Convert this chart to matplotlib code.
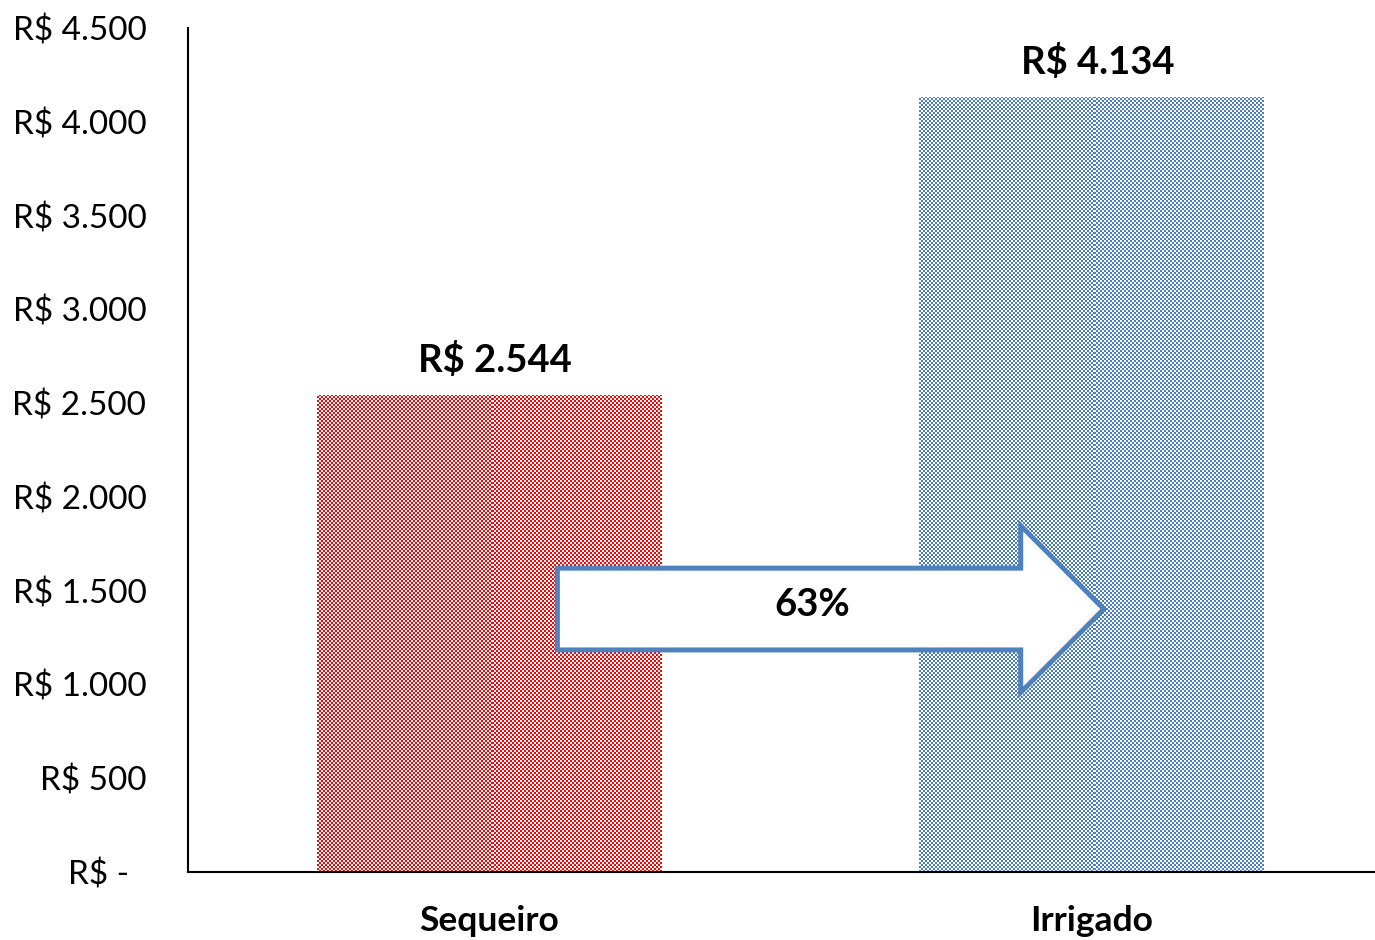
import numpy as np
import matplotlib
matplotlib.use("Agg")
import matplotlib.pyplot as plt
from matplotlib.patches import Polygon

categories = ["Sequeiro", "Irrigado"]
values = [2544, 4134]
value_labels = ["R$ 2.544", "R$ 4.134"]
yticks = [0, 500, 1000, 1500, 2000, 2500, 3000, 3500, 4000, 4500]
ytick_labels = ["R$ -  ", "R$ 500", "R$ 1.000", "R$ 1.500", "R$ 2.000", "R$ 2.500",
                "R$ 3.000", "R$ 3.500", "R$ 4.000", "R$ 4.500"]
growth_label = "63%"
bar_colors = ["#FF0000", "#4A7EC8"]

plt.rcParams['font.family'] = ['Lato', 'DejaVu Sans']

W, H = 1375, 940
fig = plt.figure(figsize=(W/100, H/100), dpi=100)
ax = fig.add_axes([188/W, 1 - 872/H, (W - 188)/W, (872 - 28)/H])
ax.set_xlim(-0.5, 1.47)
ax.set_ylim(0, 4500)

x = np.arange(len(categories))
bars = ax.bar(x, values, width=0.572, color='none', edgecolor='none', zorder=2)

# checkerboard fill
fig.canvas.draw()
for b, col in zip(bars, bar_colors):
    x0, y0 = b.get_x(), b.get_y()
    x1, y1 = x0 + b.get_width(), y0 + b.get_height()
    p0 = ax.transData.transform((x0, y0))
    p1 = ax.transData.transform((x1, y1))
    nx = max(1, int(round(abs(p1[0] - p0[0]) / 2)))
    ny = max(1, int(round(abs(p1[1] - p0[1]) / 2)))
    ii, jj = np.indices((ny, nx))
    mask = (ii + jj) % 2
    rgb = np.array(matplotlib.colors.to_rgb(col))
    img = np.where(mask[..., None] == 1, rgb, np.array([1.0, 1.0, 1.0]))
    im = ax.imshow(img, extent=(x0, x1, y0, y1), interpolation='nearest',
                   aspect='auto', zorder=1)
    im.set_clip_path(b)

ax.set_xlim(-0.5, 1.47)
ax.set_ylim(0, 4500)

for xi, v, lab in zip(x, values, value_labels):
    ax.annotate(lab, (xi, v), xytext=(4, 12), textcoords='offset points',
                ha='center', va='bottom', fontsize=27.5, fontweight='bold')

# arrow
arrow_y = 1402
body_half = 218
head_half = 445
xs, xb, xt = 0.113, 0.882, 1.020
pts = [(xs, arrow_y + body_half), (xb, arrow_y + body_half), (xb, arrow_y + head_half),
       (xt, arrow_y), (xb, arrow_y - head_half), (xb, arrow_y - body_half),
       (xs, arrow_y - body_half)]
ax.add_patch(Polygon(pts, closed=True, facecolor='white', edgecolor='#4F81BD',
                     linewidth=3.6, zorder=3, joinstyle='miter'))
ax.text(0.536, arrow_y + 20, growth_label, ha='center', va='center', fontsize=27.5,
        fontweight='bold', zorder=4)

ax.set_yticks(yticks)
ax.set_yticklabels(ytick_labels, fontsize=24)
ax.set_xticks(x)
ax.set_xticklabels(categories, fontsize=25.5, fontweight='bold')
ax.tick_params(axis='y', length=0, pad=30)
ax.tick_params(axis='x', length=0, pad=24)
for s in ['top', 'right']:
    ax.spines[s].set_visible(False)
ax.spines['left'].set_linewidth(1.5)
ax.spines['bottom'].set_linewidth(1.5)

fig.savefig("out.png", dpi=100)
